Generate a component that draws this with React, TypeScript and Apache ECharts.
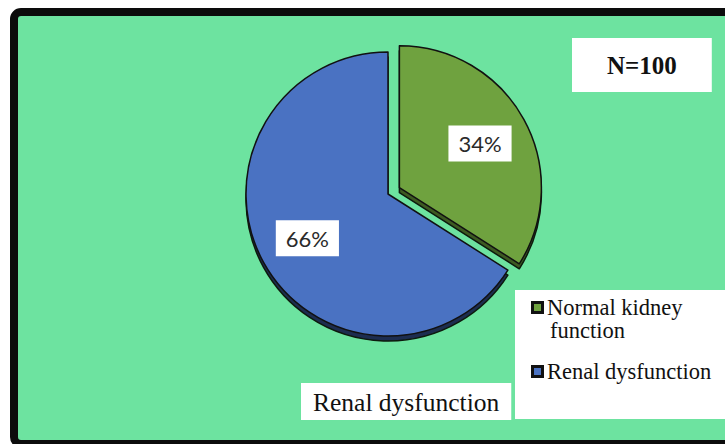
import React, { useEffect, useRef } from "react";
import * as echarts from "echarts";

const categories = ["Normal kidney function", "Renal dysfunction"];
const values = [34, 66];
const sliceColors = ["#6fa23f", "#4a72c2"];
const shadowColors = ["#3d5a22", "#1d2d50"];
const legendLines: Record<string, string[]> = {
  "Normal kidney function": ["Normal kidney", "function"],
  "Renal dysfunction": ["Renal dysfunction"],
};
const sampleLabel = "N=100";
const bottomTitle = "Renal dysfunction";

export default function App() {
  const ref = useRef<HTMLDivElement>(null);
  useEffect(() => {
    if (!ref.current) return;
    const chart = echarts.init(ref.current, undefined, { renderer: "svg" });
    const mkData = (cols: string[], extra: any = {}) =>
      categories.map((name, i) => ({
        name,
        value: values[i],
        selected: i === 0,
        itemStyle: { color: cols[i], ...extra },
      }));
    const center = [388, 194];
    const radius = 142;
    const marker = (color: string) => ({
      width: 7,
      height: 7,
      backgroundColor: color,
      borderColor: "#111",
      borderWidth: 3,
      borderRadius: 0,
    });
    const option: any = {
      animation: false,
      backgroundColor: "#ffffff",
      graphic: [
        {
          type: "rect",
          z: -10,
          shape: { x: 14, y: 12, width: 800, height: 432, r: 7 },
          style: { fill: "#6de3a0", stroke: "#0c0c0c", lineWidth: 8 },
        },
      ],
      title: [
        {
          text: sampleLabel,
          left: 572,
          top: 38,
          padding: [13, 35, 13, 35],
          backgroundColor: "#ffffff",
          textStyle: {
            fontFamily: "Liberation Serif",
            fontWeight: "bold",
            fontSize: 25,
            color: "#111",
            lineHeight: 28,
          },
        },
        {
          text: bottomTitle,
          left: 301,
          top: 383,
          padding: [5, 12, 4, 12],
          backgroundColor: "#ffffff",
          textStyle: {
            fontFamily: "Liberation Serif",
            fontWeight: "normal",
            fontSize: 25.5,
            color: "#111",
            lineHeight: 28,
          },
        },
      ],
      legend: {
        orient: "vertical",
        left: 515,
        top: 290,
        padding: [6, 40, 36, 12],
        itemGap: 18,
        backgroundColor: "#ffffff",
        itemWidth: 1,
        itemHeight: 1,
        itemStyle: { opacity: 0 },
        selectedMode: false,
        data: categories,
        formatter: (name: string) => {
          const idx = categories.indexOf(name);
          const lines = legendLines[name];
          return lines
            .map((l, j) =>
              j === 0 ? `{m${idx}|}{g|}{t|${l}}` : `{s|}{t|${l}}`
            )
            .join("\n");
        },
        textStyle: {
          rich: {
            m0: marker(sliceColors[0]),
            m1: marker(sliceColors[1]),
            g: { width: 6 },
            s: { width: 16 },
            t: {
              fontFamily: "Liberation Serif",
              fontSize: 22.5,
              color: "#111",
              lineHeight: 23,
            },
          },
        },
      },
      series: [
        {
          type: "pie",
          name: "shadow",
          center: [center[0], center[1] + 5],
          radius,
          selectedMode: "single",
          selectedOffset: 13,
          silent: true,
          z: 1,
          label: { show: false },
          labelLine: { show: false },
          emphasis: { disabled: true },
          data: mkData(shadowColors, { borderColor: "#0d1a0d", borderWidth: 1.5 }),
        },
        {
          type: "pie",
          name: "main",
          center,
          radius,
          selectedMode: "single",
          selectedOffset: 13,
          silent: true,
          z: 2,
          label: { show: false },
          labelLine: { show: false },
          emphasis: { disabled: true },
          data: mkData(sliceColors, { borderColor: "#111", borderWidth: 1.5 }),
        },
        {
          type: "pie",
          name: "labels",
          center,
          radius: 178,
          selectedMode: "single",
          selectedOffset: 13,
          silent: true,
          z: 3,
          emphasis: { disabled: true },
          labelLine: { show: false },
          label: {
            show: true,
            position: "inside",
            formatter: "{c}%",
            backgroundColor: "#ffffff",
            padding: [8, 10, 6, 10],
            fontFamily: "Lato",
            fontSize: 22,
            color: "#2a2a2a",
          },
          data: mkData(["rgba(0,0,0,0)", "rgba(0,0,0,0)"], { borderWidth: 0 }),
        },
      ],
    };
    chart.setOption(option);
    return () => chart.dispose();
  }, []);
  return (
    <div
      ref={ref}
      style={{ position: "fixed", left: 0, top: 0, width: 725, height: 444 }}
    />
  );
}
